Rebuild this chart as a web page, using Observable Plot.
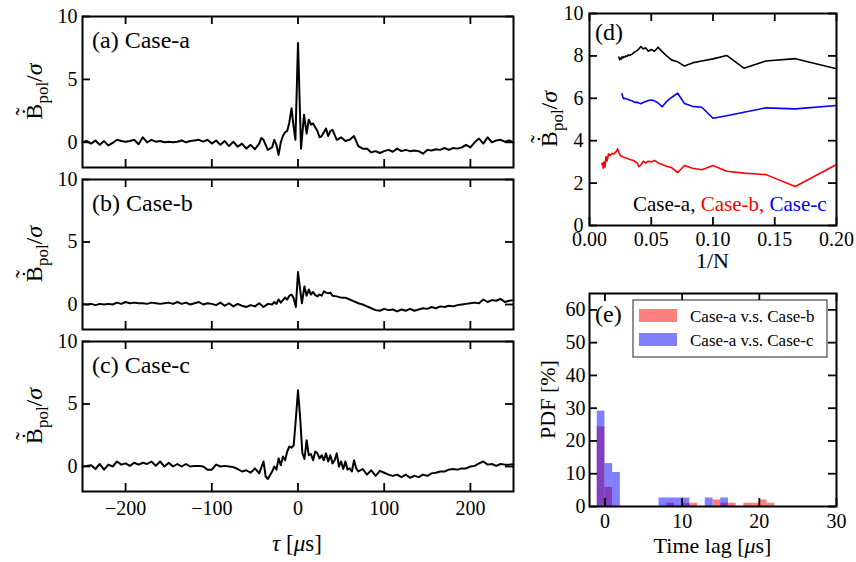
<!DOCTYPE html>
<html><head><meta charset="utf-8">
<script src="https://cdn.jsdelivr.net/npm/d3@7"></script>
<script src="https://cdn.jsdelivr.net/npm/@observablehq/plot@0.6"></script>
<style>
html,body{margin:0;padding:0;background:#fff;}
#fig{position:relative;width:856px;height:562px;overflow:hidden;font-family:'Liberation Serif',serif;}
#fig svg text{font-family:'Liberation Serif',serif;}
</style></head><body><div id="fig"></div>
<script>
// ---------- (a)-(c): conditional averages vs tau [us] ----------
const tauTicks = [-200, -100, 0, 100, 200];
const bTicks = [0, 5, 10];

const tauA = [-250,-245,-240,-235,-230,-225,-220,-215,-210,-205,-200,-195,-190,-185,-180,-175,-170,-165,-160,-155,-150,-145,-140,-135,-130,-125,-120,-115,-110,-105,-100,-95,-90,-85,-80,-75,-70,-65,-60,-55,-50,-45,
  -42.5,-40,-35,-30,-27.5,-25,-22.5,-20,-17.5,-15,-12.5,-10,-7.5,-5,-3,0,3.5,7,10,12.5,15,17.5,20,22.5,25,27.5,30,32.5,35,37.5,40,42.5,45,
  50,55,60,65,70,75,80,85,90,95,100,105,110,115,120,125,130,135,140,145,150,155,160,165,170,175,180,185,190,195,200,205,210,215,220,225,230,235,240,245,250];
const valA = [0.0,0.1,-0.1,0.15,-0.2,0.1,-0.25,-0.05,0.2,0.1,0.05,0.1,0.2,-0.15,0.4,0.0,0.2,0.05,0.1,0.0,0.05,0.0,0.05,0.15,0.0,0.1,0.15,0.2,0.05,0.2,-0.1,0.15,-0.2,0.1,-0.3,0.05,-0.35,-0.1,-0.5,-0.2,-0.55,-0.1,
  0.35,0.2,-0.6,-0.4,0.2,-0.2,-1.0,0.0,0.5,0.8,0.9,1.6,2.7,1.2,0.2,7.9,-0.5,2.2,0.7,1.8,1.4,1.5,1.2,0.9,0.4,0.5,0.8,1.1,0.5,0.9,1.0,0.6,0.2,
  0.4,0.1,0.2,0.5,-0.3,-0.5,-0.5,-0.8,-0.7,-0.85,-0.7,-0.6,-0.75,-0.5,-0.7,-0.6,-0.7,-0.65,-0.7,-0.9,-0.6,-0.65,-0.55,-0.6,-0.45,-0.6,-0.45,-0.5,-0.4,-0.2,-0.4,0.0,0.3,-0.1,0.4,0.0,0.15,0.2,0.05,0.15,0.0];

const tauB = [-250,-245,-240,-235,-230,-225,-220,-215,-210,-205,-200,-195,-190,-185,-180,-175,-170,-165,-160,-155,-150,-145,-140,-135,-130,-125,-120,-115,-110,-105,-100,-95,-90,-85,-80,-75,-70,-65,-60,-55,-50,-45,-40,-35,-30,
  -27.5,-25,-22.5,-20,-17.5,-15,-12.5,-10,-7.5,-5,-2.5,0,2.5,4.5,7.5,10,12.5,15,17.5,20,22.5,25,27.5,30,32.5,35,37.5,40,
  45,50,55,60,65,70,75,80,85,90,95,100,105,110,115,120,125,130,135,140,145,150,155,160,165,170,175,180,185,190,195,200,205,210,215,220,225,230,235,240,245,250];
const valB = [0.05,0.0,0.05,-0.05,0.05,0.0,0.05,0.0,0.15,0.05,0.2,0.1,0.15,0.1,0.1,0.05,0.15,0.1,0.05,0.1,0.15,0.05,0.2,0.05,0.15,0.0,0.1,0.2,0.0,0.1,0.05,-0.05,0.15,-0.1,0.1,-0.15,0.05,-0.1,-0.2,-0.05,-0.15,0.1,-0.2,0.05,0.0,
  0.2,0.05,0.4,0.15,0.35,0.55,0.4,0.7,0.8,0.5,-0.2,2.6,1.2,0.1,1.45,0.7,1.2,0.8,1.0,0.75,0.65,0.8,0.7,1.05,0.95,0.9,0.95,0.7,
  0.65,0.55,0.55,0.4,0.25,0.1,0.0,-0.15,-0.3,-0.45,-0.5,-0.35,-0.45,-0.4,-0.55,-0.4,-0.5,-0.35,-0.5,-0.4,-0.3,-0.35,-0.2,-0.3,-0.15,-0.2,-0.1,-0.15,-0.05,0.0,0.05,0.1,0.15,0.1,0.4,0.2,0.35,0.3,0.45,0.2,0.3,0.35];

const tauC = [-250,-245,-240,-235,-230,-225,-220,-215,-210,-205,-200,-195,-190,-185,-180,-175,-170,-165,-160,-155,-150,-145,-140,-135,-130,-125,-120,-115,-110,-105,-100,-95,-90,-85,-80,-75,-70,-65,-60,-55,-50,-45,-40,
  -37.5,-35,-30,-27.5,-25,
  -22.5,-20,-17.5,-15,-12.5,-10,-7.5,-5,-2.5,0,2.5,5,7.5,10,12.5,15,17.5,20,22.5,25,27.5,30,32.5,35,37.5,40,42.5,45,47.5,50,52.5,55,57.5,60,62.5,65,67.5,
  70,75,80,85,90,95,100,105,110,115,120,125,130,135,140,145,150,155,160,165,170,175,180,185,190,195,200,205,210,215,220,225,230,235,240,245,250];
const valC = [0.0,0.05,0.1,-0.2,0.2,-0.25,0.15,0.0,0.4,0.15,0.25,0.05,0.3,0.15,0.3,0.2,0.4,0.05,0.4,0.0,0.3,0.0,0.2,0.0,0.2,0.0,0.05,0.05,0.0,-0.25,-0.25,0.15,0.0,0.05,0.0,-0.05,-0.2,-0.4,-0.3,-0.5,-0.15,-0.55,0.4,
  -0.8,-1.0,-0.4,0.0,-0.25,
  0.65,0.1,0.8,0.5,1.2,1.6,1.5,1.7,3.8,6.1,3.9,1.1,0.6,2.1,0.9,1.0,0.5,1.2,1.05,0.65,0.9,0.5,1.05,0.4,0.9,0.25,0.5,1.05,0.0,0.4,-0.2,0.4,-0.25,-0.15,-0.4,0.5,-0.15,
  -0.4,-0.2,-0.65,-0.3,-0.75,-0.35,-0.5,-0.65,-0.75,-0.65,-0.85,-0.65,-0.9,-0.75,-0.85,-0.65,-0.75,-0.55,-0.5,-0.4,-0.4,-0.25,-0.2,-0.25,-0.15,-0.15,0.0,0.05,0.25,0.4,0.15,0.2,0.05,0.2,0.15,0.15,0.2];

// ---------- (d): peak amplitude vs 1/N ----------
const invNTicks = [0, 0.05, 0.10, 0.15, 0.20];
const dTicks = [0, 2, 4, 6, 8, 10];
const nA = [5,6,7,8,9,10,11,12,13,14,15,16,17,18,19,20,21,22,23,24,25,26,27,28,29,30,31,32,33,34,35,36,37,38,39,40,41,42];
const ampA = [7.39,7.87,7.76,7.42,8.02,7.86,7.76,7.67,7.52,7.72,7.8,8.0,8.2,8.41,8.22,8.3,8.22,8.38,8.33,8.44,8.33,8.25,8.2,8.15,8.08,8.05,8.02,8.05,7.97,8.0,7.94,7.97,7.9,7.95,7.85,7.9,7.82,7.95];
const nB = [5,6,7,8,9,10,11,12,13,14,15,16,17,18,19,20,21,22,23,24,25,26,27,28,30,32,34,36,38,40,42,44,46,48,50,55,60,65,70,75,80,85,90,95,100];
const ampB = [2.88,1.84,2.4,2.47,2.56,2.83,2.63,2.7,2.83,2.5,2.72,2.8,2.88,2.95,3.07,3.0,3.03,2.95,3.03,2.85,2.78,2.95,3.0,3.07,3.1,3.15,3.18,3.22,3.25,3.3,3.45,3.62,3.5,3.45,3.38,3.4,3.3,3.38,3.05,3.25,2.75,3.0,2.7,2.95,2.9];
const nC = [5,6,7,8,9,10,11,12,13,14,15,16,17,18,19,20,21,22,23,24,25,26,27,28,29,30,31,32,33,34,35,36,37,38];
const ampC = [5.66,5.5,5.55,5.34,5.18,5.06,5.58,5.62,5.75,6.24,6.05,5.85,5.6,5.78,5.88,5.92,5.9,5.85,5.8,5.74,5.78,5.82,5.8,5.84,5.88,5.9,5.92,5.95,5.97,5.98,6.0,5.98,6.05,6.21];

// ---------- (e): PDF of time lag ----------
const lagTicks = [0, 10, 20, 30];
const pdfTicks = [0, 10, 20, 30, 40, 50, 60];
const lagB = [-1, 0, 8, 10, 11, 14, 15, 16, 18, 19, 20, 21];
const pdfB = [24.3, 5.8, 1, 1, 1, 2, 1, 1, 1, 1, 2, 1];
const lagC = [-1, 0, 1, 7, 8, 9, 10, 13, 15];
const pdfC = [29.1, 13.1, 10.4, 2.6, 2.6, 2.6, 2.6, 2.6, 2.6];

// ---------- helpers ----------
const SERIF = "Liberation Serif";
const fig = document.getElementById("fig");
const minusFmt = d => d < 0 ? "\u2212" + Math.abs(d) : String(d);

function panel(c) {
  const fw = c.width - c.ml - c.mr, fh = c.height - c.mt - c.mb, tl = 8;
  const tk = {stroke: "black", strokeWidth: 1.8};
  const fs = c.fs || 20;
  const svg = Plot.plot({
    width: c.width, height: c.height,
    marginTop: c.mt, marginRight: c.mr, marginBottom: c.mb, marginLeft: c.ml,
    x: {domain: c.xdom, axis: null}, y: {domain: c.ydom, axis: null},
    style: {fontFamily: SERIF, background: "transparent", overflow: "visible", color: "black",
            position: "absolute", left: c.left + "px", top: c.top + "px", maxWidth: "none"},
    marks: [
      ...c.marks,
      Plot.tickX(c.xticks, {x: d => d, insetTop: fh - tl, ...tk}),
      Plot.tickX(c.xticks, {x: d => d, insetBottom: fh - tl, ...tk}),
      Plot.tickY(c.yticks, {y: d => d, insetRight: fw - tl, ...tk}),
      Plot.tickY(c.yticks, {y: d => d, insetLeft: fw - tl, ...tk}),
      Plot.axisY({ticks: c.yticks, anchor: "left", tickSize: 0, tickPadding: c.ypad, tickFormat: c.yfmt, fontSize: fs, fontFamily: SERIF, label: null}),
      c.showX ? Plot.axisX({ticks: c.xticks, anchor: "bottom", tickSize: 0, tickPadding: c.xpad, tickFormat: c.xfmt, fontSize: fs, fontFamily: SERIF, label: null}) : null,
      Plot.frame({stroke: "black", strokeWidth: 2})
    ]
  });
  fig.appendChild(svg);
  return svg;
}

function addText(svg, x, y, parts, {rotate = false, anchor = "start", size = 22} = {}) {
  const t = d3.select(svg).append("text")
    .attr("font-family", SERIF).attr("font-size", size).attr("text-anchor", anchor).attr("fill", "black")
    .attr("transform", `translate(${x},${y})` + (rotate ? " rotate(-90)" : ""));
  for (const p of parts) {
    const s = t.append("tspan").text(p.t);
    if (p.fill) s.attr("fill", p.fill);
    if (p.italic) s.attr("font-style", "italic");
    if (p.size) s.attr("font-size", p.size);
    if (p.dx) s.attr("dx", p.dx);
    if (p.dy) s.attr("dy", p.dy);
  }
  return t;
}
// B with dot and tilde above, subscript "pol", divided by sigma (size 24)
const bLabel = [
  {t: "B"},
  {t: "\u02D9", dx: -12, dy: -4.5},
  {t: "\u02DC", dx: -8, dy: -5.5},
  {t: "pol", dx: 4, dy: 16, size: 17},
  {t: "/", dy: -6},
  {t: "\u03c3", italic: true}
];

// ---------- left panels ----------
const cases = [
  {tau: tauA, val: valA, top: 0, h: 175, mt: 16, mb: 8, name: "(a) Case-a"},
  {tau: tauB, val: valB, top: 170, h: 170, mt: 9, mb: 11, name: "(b) Case-b"},
  {tau: tauC, val: valC, top: 330, h: 232, mt: 11, mb: 71, name: "(c) Case-c"}
];
cases.forEach((cs, i) => {
  const data = cs.tau.map((t, j) => ({t, v: cs.val[j]}));
  const svg = panel({
    left: 0, top: cs.top, width: 530, height: cs.h, mt: cs.mt, mr: 17, mb: cs.mb, ml: 82,
    xdom: [-250, 250], ydom: [-2, 10], xticks: tauTicks, yticks: bTicks,
    xfmt: minusFmt, yfmt: d => String(d), ypad: 5, xpad: 9, showX: i === 2,
    marks: [Plot.line(data, {x: "t", y: "v", stroke: "black", strokeWidth: 2})]
  });
  const fh = cs.h - cs.mt - cs.mb;
  addText(svg, 92, cs.mt + 32, [{t: cs.name}], {size: 24});
  addText(svg, 42, cs.mt + fh / 2, bLabel, {rotate: true, anchor: "middle", size: 24});
  if (i === 2) addText(svg, 297, 221, [{t: "\u03c4", italic: true}, {t: " ["}, {t: "\u03bc", italic: true}, {t: "s]"}], {anchor: "middle", size: 23});
});

// ---------- (d) ----------
{
  const mk = (ns, vs) => ns.map((n, i) => ({x: 1 / n, y: vs[i]}));
  const svg = panel({
    left: 540, top: 0, width: 316, height: 280, mt: 13, mr: 20, mb: 55, ml: 49,
    xdom: [0, 0.2], ydom: [0, 10], xticks: invNTicks, yticks: dTicks,
    xfmt: d3.format(".2f"), yfmt: d => String(d), ypad: 6, xpad: 6, showX: true,
    marks: [
      Plot.line(mk(nA, ampA), {x: "x", y: "y", stroke: "black", strokeWidth: 1.6}),
      Plot.line(mk(nB, ampB), {x: "x", y: "y", stroke: "#ff0000", strokeWidth: 1.6}),
      Plot.line(mk(nC, ampC), {x: "x", y: "y", stroke: "#0000ff", strokeWidth: 1.6})
    ]
  });
  addText(svg, 55, 40, [{t: "(d)"}], {size: 24});
  addText(svg, 17, 119, bLabel, {rotate: true, anchor: "middle", size: 24});
  addText(svg, 172.5, 268, [{t: "1/N"}], {anchor: "middle", size: 22});
  addText(svg, 93, 211, [{t: "Case-a, ", fill: "black"}, {t: "Case-b, ", fill: "#ff0000"}, {t: "Case-c", fill: "#0000ff"}], {size: 21});
}

// ---------- (e) ----------
{
  const hb = lagB.map((l, i) => ({x1: l, x2: l + 1, y: pdfB[i]}));
  const hc = lagC.map((l, i) => ({x1: l, x2: l + 1, y: pdfC[i]}));
  const svg = panel({
    left: 540, top: 280, width: 316, height: 282, mt: 13, mr: 20, mb: 56, ml: 49,
    xdom: [-2, 30], ydom: [0, 65], xticks: lagTicks, yticks: pdfTicks,
    xfmt: d => String(d), yfmt: d => String(d), ypad: 4, xpad: 7, showX: true,
    marks: [
      Plot.rectY(hb, {x1: "x1", x2: "x2", y: "y", fill: "#ff0000", fillOpacity: 0.5}),
      Plot.rectY(hc, {x1: "x1", x2: "x2", y: "y", fill: "#0000ff", fillOpacity: 0.5})
    ]
  });
  addText(svg, 55, 42, [{t: "(e)"}], {size: 24});
  addText(svg, 15, 119.5, [{t: "PDF [%]"}], {rotate: true, anchor: "middle", size: 22});
  addText(svg, 172.5, 273, [{t: "Time lag ["}, {t: "\u03bc", italic: true}, {t: "s]"}], {anchor: "middle", size: 22});
  const g = d3.select(svg).append("g");
  g.append("rect").attr("x", 93).attr("y", 20).attr("width", 194).attr("height", 57)
    .attr("fill", "white").attr("stroke", "#222").attr("stroke-width", 1);
  g.append("rect").attr("x", 99).attr("y", 29).attr("width", 38).attr("height", 13).attr("fill", "#ff0000").attr("fill-opacity", 0.5);
  g.append("rect").attr("x", 99).attr("y", 53).attr("width", 38).attr("height", 13).attr("fill", "#0000ff").attr("fill-opacity", 0.5);
  addText(svg, 150, 41.5, [{t: "Case-a v.s. Case-b"}], {size: 17});
  addText(svg, 150, 66, [{t: "Case-a v.s. Case-c"}], {size: 17});
}
</script></body></html>
